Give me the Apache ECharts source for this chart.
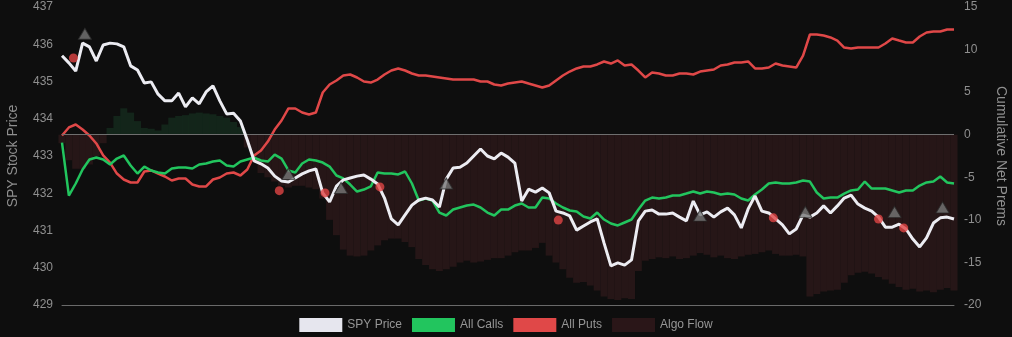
<!DOCTYPE html>
<html>
<head>
<meta charset="utf-8">
<script src="https://cdn.jsdelivr.net/npm/echarts@6/dist/echarts.min.js"></script>
<style>
html,body{margin:0;padding:0;background:#0e0e0e;}
#chart{width:1012px;height:337px;}
</style>
</head>
<body>
<div id="chart"></div>
<script>
// Minutes since open, one sample every 3 minutes (09:30 -> 16:00)
const minutes = [];
for (let i = 0; i <= 130; i++) minutes.push(i * 3);

const spyPrice = [
435.69,435.50,435.28,436.03,435.93,435.55,435.98,436.03,436.01,435.93,
435.42,435.31,434.96,434.99,434.66,434.48,434.48,434.69,434.32,434.56,
434.40,434.72,434.88,434.48,434.13,434.15,433.94,433.43,432.87,432.79,
432.68,432.46,432.33,432.30,432.41,432.52,432.60,432.65,432.01,431.77,
432.19,432.36,432.41,432.46,432.49,432.38,432.25,431.87,431.31,431.15,
431.42,431.68,431.82,431.87,431.82,431.63,432.38,432.68,432.70,432.81,
433.00,433.19,433.00,432.92,433.08,432.97,432.81,431.79,432.11,432.03,
432.14,432.01,431.52,431.47,431.39,431.01,431.12,431.23,431.31,430.66,
430.05,430.13,430.07,430.21,431.26,431.52,431.55,431.44,431.44,431.47,
431.36,431.26,431.79,431.42,431.50,431.36,431.50,431.60,431.42,431.07,
431.58,431.93,431.52,431.47,431.31,431.15,430.91,431.04,431.42,431.36,
431.47,431.66,431.47,431.66,431.87,431.95,431.71,431.60,431.52,431.36,
431.09,431.09,431.17,431.04,430.77,430.56,430.80,431.20,431.34,431.36,
431.31];

const allCalls = [
-0.92,-7.14,-5.73,-4.09,-2.91,-2.68,-2.91,-3.50,-2.80,-2.44,
-3.62,-4.56,-3.74,-4.20,-4.44,-4.56,-3.97,-3.85,-3.85,-3.97,
-3.50,-3.38,-3.15,-3.03,-3.62,-3.74,-3.15,-2.91,-2.68,-3.03,
-3.15,-2.33,-2.80,-4.20,-4.44,-3.38,-2.91,-3.03,-3.27,-3.74,
-4.79,-5.14,-5.85,-6.67,-6.44,-6.08,-4.44,-4.56,-4.56,-4.67,
-4.32,-5.73,-7.73,-7.49,-7.73,-9.14,-9.49,-8.79,-8.55,-8.32,
-8.20,-8.55,-9.14,-9.49,-8.79,-8.79,-8.32,-8.08,-8.55,-8.55,
-7.38,-7.49,-8.08,-8.55,-8.90,-9.02,-9.61,-9.84,-9.14,-9.96,
-10.43,-10.66,-10.31,-9.96,-8.79,-7.73,-7.38,-7.49,-7.38,-7.14,
-7.14,-6.91,-6.67,-6.91,-6.67,-6.79,-7.02,-6.91,-7.02,-7.49,
-7.73,-7.02,-6.44,-5.73,-5.61,-5.73,-5.73,-5.61,-5.38,-5.50,
-6.79,-7.49,-7.38,-7.38,-6.91,-6.55,-6.44,-5.50,-6.32,-6.32,
-6.32,-6.55,-6.79,-6.55,-6.55,-5.97,-5.61,-5.50,-4.91,-5.61,
-5.73];

const allPuts = [
-0.09,0.85,1.20,0.61,-0.09,-1.03,-2.44,-3.27,-4.56,-5.26,
-5.61,-5.61,-4.32,-4.20,-4.56,-4.91,-5.38,-5.14,-5.14,-5.85,
-6.08,-6.08,-5.26,-5.03,-4.56,-4.44,-4.79,-4.09,-2.44,-1.86,
-0.80,0.61,1.67,3.08,3.08,2.61,2.37,2.61,4.96,5.90,
6.37,6.95,7.07,6.72,6.25,6.13,6.48,7.07,7.54,7.78,
7.54,7.19,6.95,6.95,6.84,6.72,6.60,6.48,6.48,6.48,
6.48,6.25,6.25,5.90,5.78,6.01,6.13,6.25,6.01,5.78,
5.54,5.78,6.37,6.95,7.42,7.78,8.01,8.01,8.25,8.60,
8.36,8.72,8.13,8.25,7.54,6.72,7.31,7.19,6.95,6.95,
7.19,7.19,7.07,7.42,7.54,7.66,8.13,8.25,8.48,8.48,
8.60,7.78,7.78,7.89,8.36,8.13,8.01,7.89,9.30,11.77,
11.77,11.65,11.42,11.06,10.24,10.12,10.24,10.24,10.24,10.24,
10.71,11.30,11.06,10.83,10.83,11.53,12.00,12.12,12.12,12.36,
12.36];

const algoFlow = [
-1,-3,-4,-4,-3.5,-2.5,-1,0.8,2.2,3.1,
2.6,1.6,0.8,0.7,0.5,1.2,2.0,2.2,2.3,2.5,
2.6,2.5,2.4,2.2,2.0,1.5,0.9,-1.5,-3,-4.5,
-5,-5.5,-6,-6.2,-6,-6,-6.2,-6.4,-7.5,-10,
-11.8,-13.5,-14.2,-14.3,-14.2,-13.6,-13,-12.4,-12.2,-12.2,
-12.6,-13.2,-14.6,-15.3,-15.8,-16,-15.8,-15.5,-15,-14.8,
-15,-14.9,-14.7,-14.5,-14.5,-14.2,-13.8,-13.6,-13.6,-13.3,
-12.7,-14.2,-15,-15.8,-16.8,-17.4,-17.3,-17.7,-18.3,-19,
-19.3,-19.4,-19.2,-19.3,-16,-14.8,-14.6,-14.4,-14.5,-14.3,
-14.6,-14.5,-14.2,-13.9,-14.1,-14.4,-14.2,-14.5,-14.6,-14.3,
-14.1,-14,-13.8,-13.6,-14,-14.2,-14.2,-14.1,-14.3,-19,
-18.7,-18.4,-18.3,-18.2,-17.4,-16.5,-16.2,-16.1,-16.3,-16.7,
-17,-17.5,-17.9,-18.2,-18.1,-18.4,-18.3,-18.5,-18.2,-18,
-18.3];

// Signal markers (minute, price)
const dotMinutes = [5,95,115,139,217,311,357,368];
const dotPrices  = [435.63,432.07,432.01,432.17,431.28,431.34,431.31,431.07];
const triMinutes = [10,99,122,168,279,325,364,385];
const triPrices  = [436.28,432.52,432.14,432.26,431.40,431.50,431.50,431.62];

const leftTicks = {min: 429, max: 437, interval: 1};
const rightTicks = {min: -20, max: 15, interval: 5};

const pair = (xs, ys) => xs.map((x, i) => [x, ys[i]]);
const FONT = '"Liberation Sans", Arial, sans-serif';

const chart = echarts.init(document.getElementById('chart'), null, {renderer: 'canvas'});
chart.setOption({
  backgroundColor: '#0e0e0e',
  animation: false,
  textStyle: {fontFamily: FONT},
  grid: {left: 62, right: 58, top: 7, bottom: 32, containLabel: false, outerBoundsMode: 'none'},
  legend: {
    data: ['SPY Price', 'All Calls', 'All Puts', 'Algo Flow'],
    top: 313,
    left: 'center',
    icon: 'rect',
    itemWidth: 43,
    itemHeight: 14,
    itemGap: 10,
    textStyle: {color: '#969696', fontSize: 12, fontFamily: FONT}
  },
  xAxis: [
    {
      type: 'category', data: minutes, boundaryGap: false,
      axisLine: {show: true, onZero: false, lineStyle: {color: '#6a6a6a', width: 1}},
      axisTick: {show: false}, axisLabel: {show: false}, splitLine: {show: false}
    },
    {
      type: 'value', min: 0, max: 390, position: 'bottom',
      axisLine: {show: false}, axisTick: {show: false}, axisLabel: {show: false}, splitLine: {show: false}
    }
  ],
  yAxis: [
    {
      type: 'value', min: leftTicks.min, max: leftTicks.max, interval: leftTicks.interval,
      position: 'left',
      name: 'SPY Stock Price', nameLocation: 'middle', nameGap: 42, nameRotate: 90,
      nameTextStyle: {color: '#8f8f8f', fontSize: 14, fontFamily: FONT},
      axisLine: {show: false}, axisTick: {show: false}, splitLine: {show: false},
      axisLabel: {color: '#8f8f8f', fontSize: 12, margin: 9, fontFamily: FONT}
    },
    {
      type: 'value', min: rightTicks.min, max: rightTicks.max, interval: rightTicks.interval,
      position: 'right',
      name: 'Cumulative Net Prems', nameLocation: 'middle', nameGap: 40, nameRotate: -90,
      nameTextStyle: {color: '#8f8f8f', fontSize: 14, fontFamily: FONT},
      axisLine: {show: false}, axisTick: {show: false}, splitLine: {show: false},
      axisLabel: {color: '#8f8f8f', fontSize: 12, margin: 10, fontFamily: FONT}
    }
  ],
  series: [
    {
      name: 'Algo Flow', type: 'bar', xAxisIndex: 0, yAxisIndex: 1, barWidth: 7,
      itemStyle: {color: '#2a1618'},
      data: algoFlow.map(v => ({
        value: v,
        itemStyle: {color: v >= 0 ? 'rgba(40,130,75,0.2)' : '#261617'}
      })),
      markLine: {
        silent: true, symbol: 'none', label: {show: false},
        lineStyle: {color: '#6f6f6f', width: 1, type: 'solid'},
        data: [{yAxis: 0}]
      },
      z: 1
    },
    {
      name: 'All Puts', type: 'line', xAxisIndex: 1, yAxisIndex: 1, showSymbol: false,
      color: '#e04848',
      lineStyle: {color: '#e04848', width: 2.5},
      data: pair(minutes, allPuts), z: 3
    },
    {
      name: 'All Calls', type: 'line', xAxisIndex: 1, yAxisIndex: 1, showSymbol: false,
      color: '#22c55e',
      lineStyle: {color: '#22c55e', width: 2.5},
      data: pair(minutes, allCalls), z: 4
    },
    {
      name: 'SPY Price', type: 'line', xAxisIndex: 1, yAxisIndex: 0, showSymbol: false,
      color: '#e6e6ee',
      lineStyle: {color: '#ececf2', width: 3},
      data: pair(minutes, spyPrice), z: 5
    },
    {
      name: 'sigDot', type: 'scatter', xAxisIndex: 1, yAxisIndex: 0, symbol: 'circle', symbolSize: 9,
      itemStyle: {color: '#e04545'},
      data: pair(dotMinutes, dotPrices), z: 6
    },
    {
      name: 'sigTri', type: 'scatter', xAxisIndex: 1, yAxisIndex: 0, symbol: 'triangle', symbolSize: [13, 11],
      itemStyle: {color: '#787878', borderColor: '#2a2a2a', borderWidth: 1},
      data: pair(triMinutes, triPrices), z: 6
    }
  ]
});
</script>
</body>
</html>
